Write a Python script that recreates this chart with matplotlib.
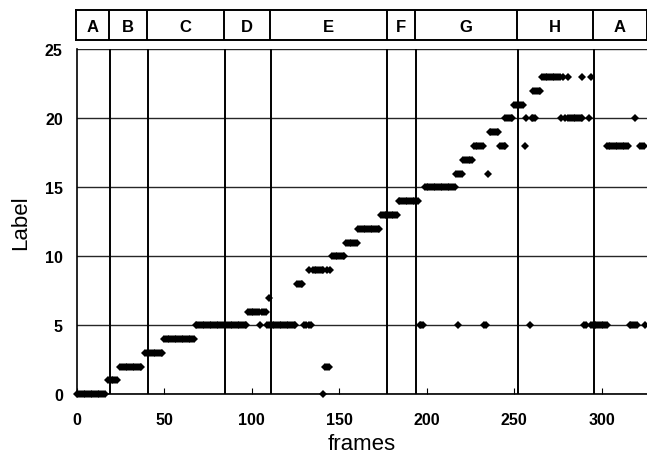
import matplotlib.pyplot as plt

plt.rcParams['font.family'] = ['Liberation Sans', 'DejaVu Sans']

# detected label per frame, stored as runs: (label, first frame, last frame)
runs = [
    (0, 0, 16), (0, 141, 141),
    (1, 18, 23),
    (2, 25, 37), (2, 142, 144),
    (3, 39, 49),
    (4, 50, 67),
    (5, 68, 97), (5, 105, 105), (5, 109, 125), (5, 130, 131), (5, 133, 134),
    (5, 196, 198), (5, 218, 218), (5, 233, 234), (5, 259, 259), (5, 290, 291),
    (5, 294, 303), (5, 316, 320), (5, 325, 325),
    (6, 98, 104), (6, 106, 108),
    (7, 110, 110),
    (8, 126, 129),
    (9, 133, 133), (9, 135, 141), (9, 143, 143), (9, 145, 145),
    (10, 146, 153),
    (11, 154, 160),
    (12, 161, 173),
    (13, 174, 183),
    (14, 184, 195),
    (15, 199, 216),
    (16, 217, 220), (16, 235, 235),
    (17, 221, 226),
    (18, 227, 232), (18, 242, 245), (18, 256, 256), (18, 303, 315), (18, 322, 324),
    (19, 236, 241),
    (20, 245, 249), (20, 257, 257), (20, 260, 262), (20, 277, 277), (20, 279, 279),
    (20, 281, 289), (20, 293, 293), (20, 319, 319),
    (21, 250, 255),
    (22, 261, 265),
    (23, 266, 276), (23, 278, 278), (23, 281, 281), (23, 289, 289), (23, 294, 294),
]

# scene boundaries and names
bounds = [0, 19, 40.5, 84.5, 111, 177.5, 194, 252, 295.5, 326]
scenes = ['A', 'B', 'C', 'D', 'E', 'F', 'G', 'H', 'A']

frames = []
labels = []
for lab, f0, f1 in runs:
    for f in range(f0, f1 + 1):
        frames.append(f)
        labels.append(lab)

fig = plt.figure(figsize=(6.47, 4.6), dpi=100)
ax = fig.add_axes([0.1185, 0.1407, 0.8815, 0.7496])
band = fig.add_axes([0.1175, 0.9102, 0.8825, 0.0665])

ax.set_xlim(0, 326)
ax.set_ylim(0, 25)
for yv in range(0, 26, 5):
    ax.axhline(yv, color='0.15', lw=1, zorder=1)
for b in bounds[1:-1]:
    ax.axvline(b, color='black', lw=1.4, zorder=1)
ax.plot(frames, labels, 'D', ms=4.2, color='black', mew=0, zorder=3, clip_on=False)

ax.set_xticks(range(0, 301, 50))
ax.set_yticks(range(0, 26, 5))
ax.tick_params(axis='x', direction='in', length=4, pad=13, labelsize=11.5)
ax.tick_params(axis='y', direction='in', length=0, pad=10, labelsize=11.5)
for t in ax.get_xticklabels() + ax.get_yticklabels():
    t.set_fontweight('bold')
ax.spines['top'].set_visible(False)
ax.spines['right'].set_visible(False)
ax.spines['left'].set_linewidth(1.2)
ax.spines['bottom'].set_linewidth(1.2)
ax.set_xlabel('frames', fontsize=16, labelpad=4)
ax.set_ylabel('Label', fontsize=16, labelpad=10)

band.set_xlim(0, 326 * 0.8825 / 0.8815)
band.set_ylim(0, 1)
band.set_xticks([])
band.set_yticks([])
for s in band.spines.values():
    s.set_linewidth(1.4)
for b in bounds[1:-1]:
    band.axvline(b, color='black', lw=1.4)
for i, name in enumerate(scenes):
    band.text((bounds[i] + bounds[i + 1]) / 2, 0.45, name, ha='center', va='center',
              fontsize=12, fontweight='bold')

fig.savefig('out.png', dpi=100)
